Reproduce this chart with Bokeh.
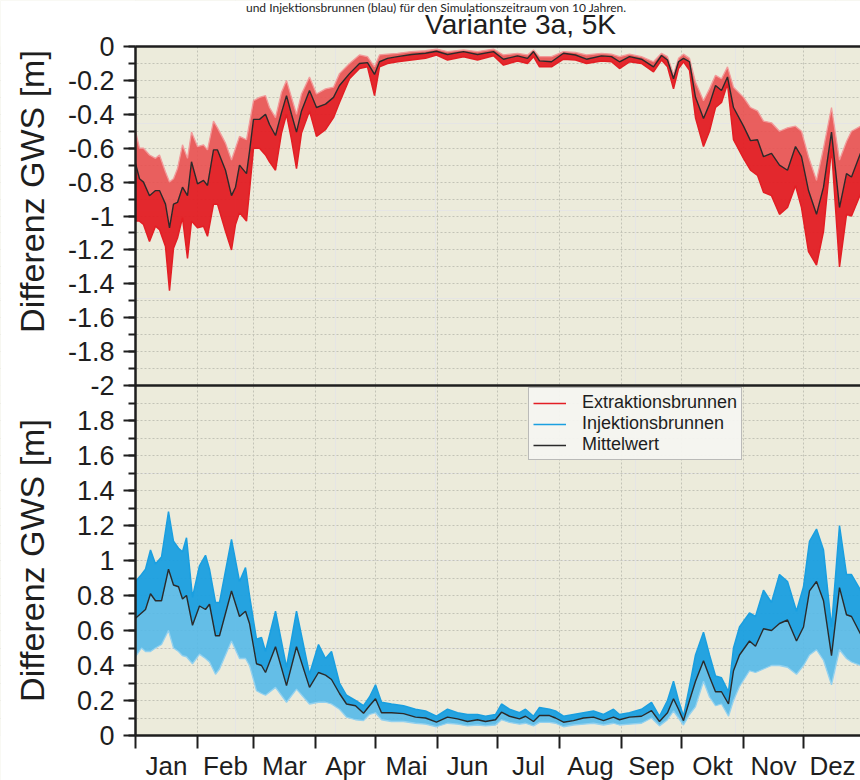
from math import pi
from bokeh.plotting import figure
from bokeh.models import (Range1d, FixedTicker, LinearAxis, Label, Legend,
                          LegendItem, Grid, BoxAnnotation)
from bokeh.embed import file_html
from bokeh.resources import INLINE

# --- month axis -------------------------------------------------------------
months = ["Jan", "Feb", "Mar", "Apr", "Mai", "Jun",
          "Jul", "Aug", "Sep", "Okt", "Nov", "Dez"]
month_start = [0, 31, 59, 90, 120, 151, 181, 212, 243, 273, 304, 334]
month_mid = [15.5, 45, 74.5, 105, 135.5, 166, 196.5, 227.5, 258, 288.5, 319, 348.5]

top_tick_labels = ["0", "-0.2", "-0.4", "-0.6", "-0.8", "-1",
                   "-1.2", "-1.4", "-1.6", "-1.8", "-2"]
bottom_tick_labels = ["0", "0.2", "0.4", "0.6", "0.8", "1",
                      "1.2", "1.4", "1.6", "1.8"]

# --- extraction wells: GW level difference [m] (mean, upper and lower envelope)
ext_day = [0, 2, 4, 7, 10, 12, 15, 17, 19, 21,
           23.5, 26, 28, 31, 34, 36, 39, 41, 45, 48,
           50, 52, 55.5, 57, 59, 62, 65, 67, 70, 73,
           75.5, 78, 80.5, 83, 87, 90.5, 95, 99, 102, 107,
           112, 116, 119.5, 122, 126, 131, 138, 145, 150.5, 156,
           164, 171, 179, 184, 191, 196, 199, 202, 208, 214,
           220, 225.5, 233, 238, 242, 247, 253, 259, 263, 266,
           269, 271.5, 274, 277, 280, 284, 287, 290, 293, 296,
           299, 304, 307.5, 311, 314, 318, 322, 326, 330, 333,
           336.5, 340.5, 344, 348, 352, 355.5, 358, 362.5]
ext_mean = [-0.69, -0.78, -0.80, -0.88, -0.85, -0.85, -0.93, -1.07, -0.93, -0.92,
            -0.83, -0.88, -0.68, -0.81, -0.79, -0.82, -0.61, -0.61, -0.73, -0.88,
            -0.83, -0.70, -0.75, -0.62, -0.43, -0.43, -0.40, -0.46, -0.525, -0.39,
            -0.29, -0.40, -0.505, -0.38, -0.26, -0.36, -0.34, -0.30, -0.23, -0.16,
            -0.10, -0.095, -0.165, -0.09, -0.07, -0.06, -0.047, -0.04, -0.028, -0.047,
            -0.03, -0.047, -0.03, -0.075, -0.055, -0.07, -0.03, -0.085, -0.09, -0.04,
            -0.05, -0.075, -0.055, -0.06, -0.09, -0.06, -0.075, -0.12, -0.053, -0.08,
            -0.19, -0.09, -0.07, -0.09, -0.30, -0.425, -0.34, -0.23, -0.26, -0.18,
            -0.36, -0.47, -0.555, -0.55, -0.65, -0.63, -0.70, -0.73, -0.59, -0.65,
            -0.85, -0.99, -0.83, -0.505, -0.95, -0.75, -0.77, -0.63]
ext_hi = [-0.50, -0.60, -0.60, -0.64, -0.66, -0.64, -0.74, -0.80, -0.78, -0.72,
          -0.58, -0.66, -0.505, -0.59, -0.58, -0.61, -0.44, -0.48, -0.57, -0.67,
          -0.60, -0.53, -0.55, -0.45, -0.32, -0.30, -0.29, -0.36, -0.42, -0.27,
          -0.20, -0.30, -0.40, -0.28, -0.18, -0.28, -0.25, -0.24, -0.16, -0.10,
          -0.05, -0.06, -0.12, -0.05, -0.045, -0.04, -0.03, -0.025, -0.015, -0.03,
          -0.02, -0.03, -0.015, -0.05, -0.04, -0.05, -0.02, -0.06, -0.06, -0.03,
          -0.035, -0.05, -0.04, -0.045, -0.06, -0.045, -0.06, -0.09, -0.04, -0.06,
          -0.165, -0.07, -0.045, -0.07, -0.21, -0.32, -0.25, -0.17, -0.19, -0.12,
          -0.24, -0.30, -0.36, -0.38, -0.44, -0.45, -0.50, -0.48, -0.47, -0.50,
          -0.65, -0.79, -0.60, -0.36, -0.67, -0.56, -0.50, -0.47]
ext_lo = [-1.03, -1.03, -1.05, -1.15, -1.06, -1.08, -1.18, -1.44, -1.19, -1.13,
          -1.01, -1.25, -1.03, -1.07, -1.06, -1.12, -0.93, -0.93, -1.09, -1.20,
          -1.05, -0.98, -1.03, -0.85, -0.60, -0.60, -0.64, -0.68, -0.73, -0.51,
          -0.40, -0.55, -0.72, -0.51, -0.38, -0.53, -0.49, -0.42, -0.33, -0.19,
          -0.13, -0.12, -0.29, -0.12, -0.10, -0.09, -0.08, -0.07, -0.05, -0.08,
          -0.06, -0.08, -0.055, -0.11, -0.085, -0.10, -0.06, -0.12, -0.12, -0.075,
          -0.08, -0.10, -0.085, -0.09, -0.13, -0.09, -0.10, -0.15, -0.08, -0.12,
          -0.25, -0.13, -0.09, -0.14, -0.42, -0.59, -0.50, -0.36, -0.33, -0.22,
          -0.55, -0.66, -0.73, -0.76, -0.86, -0.88, -0.99, -0.95, -0.82, -0.95,
          -1.21, -1.29, -1.09, -0.60, -1.30, -0.99, -1.00, -0.87]

# --- injection wells: GW level difference [m] (mean, upper and lower envelope)
inj_day = [0, 3, 5, 7.5, 10, 13, 16.5, 19, 21.5, 23.5,
           25.5, 28.5, 32, 35, 37, 40, 42, 48, 52, 55,
           57, 60.5, 63, 65, 70, 75.5, 80.5, 87, 91.5, 95,
           98, 102, 105.5, 110, 114, 117, 120, 123, 128, 134,
           140, 145, 150.5, 156, 161, 166, 171, 175, 180, 183,
           187, 192, 195, 199, 202, 207, 210, 214, 219, 224,
           229, 234, 239, 242, 247, 253, 258, 262, 266, 269,
           271.5, 274, 277, 280, 284, 287, 290, 293, 296.5, 299,
           302, 307, 310, 314, 318, 322, 326, 330.5, 334, 337,
           340.5, 344, 348, 352, 355.5, 358, 362.5]
inj_mean = [0.67, 0.70, 0.72, 0.81, 0.77, 0.77, 0.95, 0.86, 0.85, 0.78,
            0.80, 0.63, 0.74, 0.72, 0.75, 0.57, 0.57, 0.826, 0.68, 0.71,
            0.64, 0.41, 0.40, 0.36, 0.507, 0.285, 0.507, 0.275, 0.36, 0.345,
            0.32, 0.24, 0.18, 0.17, 0.127, 0.17, 0.21, 0.13, 0.13, 0.125,
            0.105, 0.10, 0.076, 0.105, 0.095, 0.08, 0.09, 0.08, 0.09, 0.133,
            0.11, 0.095, 0.11, 0.08, 0.114, 0.114, 0.10, 0.076, 0.085, 0.10,
            0.105, 0.085, 0.105, 0.09, 0.105, 0.11, 0.142, 0.08, 0.13, 0.21,
            0.15, 0.085, 0.20, 0.31, 0.427, 0.336, 0.25, 0.25, 0.18, 0.37,
            0.46, 0.54, 0.51, 0.61, 0.60, 0.64, 0.66, 0.54, 0.62, 0.826,
            0.88, 0.77, 0.456, 0.845, 0.69, 0.68, 0.58]
inj_hi = [0.88, 0.92, 0.95, 1.06, 0.98, 1.02, 1.28, 1.11, 1.07, 1.05,
          1.13, 0.79, 0.97, 1.03, 0.95, 0.76, 0.76, 1.12, 0.88, 0.96,
          0.80, 0.55, 0.56, 0.48, 0.71, 0.39, 0.71, 0.35, 0.52, 0.44,
          0.48, 0.30, 0.23, 0.20, 0.17, 0.22, 0.29, 0.19, 0.18, 0.17,
          0.15, 0.14, 0.11, 0.15, 0.13, 0.12, 0.12, 0.11, 0.12, 0.18,
          0.15, 0.13, 0.15, 0.11, 0.16, 0.15, 0.14, 0.11, 0.12, 0.13,
          0.14, 0.12, 0.15, 0.12, 0.13, 0.15, 0.19, 0.11, 0.20, 0.31,
          0.20, 0.11, 0.28, 0.46, 0.59, 0.46, 0.34, 0.33, 0.25, 0.50,
          0.62, 0.70, 0.68, 0.83, 0.76, 0.92, 0.88, 0.71, 0.85, 1.11,
          1.18, 1.06, 0.62, 1.20, 0.92, 0.92, 0.83]
inj_lo = [0.45, 0.50, 0.48, 0.48, 0.50, 0.52, 0.60, 0.50, 0.48, 0.456,
          0.45, 0.41, 0.465, 0.44, 0.42, 0.35, 0.38, 0.54, 0.44, 0.44,
          0.40, 0.256, 0.24, 0.23, 0.275, 0.19, 0.265, 0.18, 0.19, 0.19,
          0.18, 0.15, 0.105, 0.09, 0.085, 0.12, 0.13, 0.09, 0.08, 0.08,
          0.07, 0.065, 0.05, 0.07, 0.065, 0.055, 0.06, 0.055, 0.06, 0.09,
          0.075, 0.065, 0.07, 0.055, 0.075, 0.075, 0.07, 0.05, 0.06, 0.065,
          0.07, 0.06, 0.07, 0.06, 0.065, 0.07, 0.10, 0.055, 0.09, 0.14,
          0.10, 0.06, 0.12, 0.165, 0.31, 0.22, 0.17, 0.18, 0.11, 0.20,
          0.28, 0.37, 0.36, 0.38, 0.40, 0.40, 0.39, 0.35, 0.40, 0.46,
          0.49, 0.43, 0.29, 0.49, 0.44, 0.42, 0.40]

# --- styling ----------------------------------------------------------------
FONT = "Liberation Sans"
BG = "#ecebdb"
INK = "#1e1e1e"
GRID = "#c3c3b6"
RED, RED_SOFT, RED_PALE = "#e31e24", "#e95050", "#f29a9a"
BLUE, BLUE_SOFT, BLUE_PALE = "#1a9fe0", "#55b9e8", "#93d1ef"
MEAN = "#2a2a2a"

# The frame fills the whole canvas; axes are pinned with fixed_location and
# the white page margins are masked.  Pixel geometry of the panels:
W, H = 860, 780
X0_PX = 135          # x pixel of 1 January
PX_DAY = 2.0         # px per day
Y0_PX = 735          # y pixel of 0 m, lower panel
PX_BOT = 175.0       # px per metre, lower panel (0 .. 2 m)
TOP0_PX = 46         # y pixel of 0 m, upper panel
PX_TOP = 169.5       # px per metre, upper panel (-2 .. 0 m)

X_START = -X0_PX / PX_DAY
X_END = (W - X0_PX) / PX_DAY
Y_TOP = (Y0_PX - TOP0_PX) / PX_BOT       # upper edge of the upper panel (main units)


def to_main(v):
    """Position of an upper-panel value on the main y-range."""
    return (Y0_PX - (TOP0_PX - v * PX_TOP)) / PX_BOT


def px_x(px):
    return (px - X0_PX) / PX_DAY


def px_y(px):
    return (Y0_PX - px) / PX_BOT


p = figure(width=W, height=H, output_backend="svg", toolbar_location=None,
           x_range=Range1d(X_START, X_END),
           y_range=Range1d(-(H - Y0_PX) / PX_BOT, Y0_PX / PX_BOT),
           x_axis_location=None, y_axis_location=None,
           min_border_left=0, min_border_right=0, min_border_top=0,
           min_border_bottom=0, background_fill_color=BG,
           border_fill_color="white", outline_line_color=None)
p.extra_y_ranges = {"top": Range1d(-(H - TOP0_PX) / PX_TOP, TOP0_PX / PX_TOP)}

# --- dotted grid, then the white margins over it -----------------------------
top_ticks = [to_main(float(s)) for s in top_tick_labels]
bot_ticks = [float(s) for s in bottom_tick_labels]
top_minor = [to_main(-0.1 * i) for i in range(21)]
bot_minor = [0.1 * i for i in range(20)]

p.add_layout(Grid(dimension=0, ticker=FixedTicker(ticks=month_start[1:]),
                  grid_line_color=GRID, grid_line_dash="2 2", grid_line_width=1))
p.add_layout(Grid(dimension=1, ticker=FixedTicker(ticks=top_minor[1:-1] + bot_minor[1:]),
                  grid_line_color=GRID, grid_line_dash="2 2", grid_line_width=1))
for box in (dict(right=0), dict(bottom=Y_TOP), dict(top=0)):
    p.add_layout(BoxAnnotation(fill_color="white", fill_alpha=1.0, line_color=None,
                               level="underlay", **box))

# --- upper panel: extraction wells ------------------------------------------
p.varea(x=ext_day, y1=ext_hi, y2=ext_mean, fill_color=RED_SOFT, fill_alpha=0.9,
        y_range_name="top")
p.varea(x=ext_day, y1=ext_mean, y2=ext_lo, fill_color=RED, fill_alpha=0.95,
        y_range_name="top")
p.line(ext_day, ext_hi, line_color=RED_PALE, line_width=1.3, y_range_name="top")
ext_line = p.line(ext_day, ext_lo, line_color=RED, line_width=1.5, y_range_name="top")
p.line(ext_day, ext_mean, line_color=MEAN, line_width=1.4, y_range_name="top")

# --- lower panel: injection wells -------------------------------------------
p.varea(x=inj_day, y1=inj_hi, y2=inj_mean, fill_color=BLUE, fill_alpha=0.95)
p.varea(x=inj_day, y1=inj_mean, y2=inj_lo, fill_color=BLUE_SOFT, fill_alpha=0.9)
inj_line = p.line(inj_day, inj_hi, line_color=BLUE, line_width=1.5)
p.line(inj_day, inj_lo, line_color=BLUE_PALE, line_width=1.3)
mean_line = p.line(inj_day, inj_mean, line_color=MEAN, line_width=1.4)

# --- y axis carrying both panels' ticks -------------------------------------
overrides = {t: s for t, s in zip(top_ticks, top_tick_labels)}
overrides.update({t: s for t, s in zip(bot_ticks, bottom_tick_labels)})
ya = LinearAxis(fixed_location=0, bounds=(0, Y_TOP),
                ticker=FixedTicker(ticks=top_ticks + bot_ticks,
                                   minor_ticks=top_minor + bot_minor),
                major_label_overrides=overrides,
                major_label_text_font=FONT, major_label_text_font_size="27px",
                major_label_text_color=INK, major_label_standoff=9,
                axis_line_width=2.5, axis_line_color=INK,
                major_tick_line_width=2, major_tick_line_color=INK,
                minor_tick_line_width=2, minor_tick_line_color=INK,
                major_tick_out=12, major_tick_in=0, minor_tick_out=7, minor_tick_in=0)
p.add_layout(ya, "left")

# --- month axis -------------------------------------------------------------
xa = LinearAxis(fixed_location=0, bounds=(0, X_END),
                ticker=FixedTicker(ticks=month_mid, minor_ticks=month_start),
                major_label_overrides=dict(zip(month_mid, months)),
                major_label_text_font=FONT, major_label_text_font_size="26px",
                major_label_text_color=INK, major_label_standoff=2,
                axis_line_width=2.5, axis_line_color=INK,
                major_tick_out=0, major_tick_in=0,
                minor_tick_out=13, minor_tick_in=0,
                minor_tick_line_width=2, minor_tick_line_color=INK)
p.add_layout(xa, "below")

# top edge of the upper panel and the border between the panels
for loc in (Y_TOP, 2):
    p.add_layout(LinearAxis(fixed_location=loc, bounds=(0, X_END),
                            ticker=FixedTicker(ticks=[]),
                            major_label_text_font_size="0px",
                            major_tick_out=0, major_tick_in=0,
                            minor_tick_out=0, minor_tick_in=0,
                            axis_line_width=2.5, axis_line_color=INK), "above")

# --- legend ------------------------------------------------------------------
legend = Legend(items=[LegendItem(label="Extraktionsbrunnen", renderers=[ext_line]),
                       LegendItem(label="Injektionsbrunnen", renderers=[inj_line]),
                       LegendItem(label="Mittelwert", renderers=[mean_line])],
                location=(528, 320), orientation="vertical",
                label_text_font=FONT, label_text_font_size="18px",
                label_text_color=INK, label_height=18, label_standoff=16,
                glyph_width=33, glyph_height=18, spacing=0, padding=4, margin=0,
                border_line_color="#7f7f7f", border_line_width=1,
                background_fill_color="#f6f6f1", background_fill_alpha=0.95)
p.add_layout(legend)

# --- texts -------------------------------------------------------------------
for centre_px in (191, 560):
    p.add_layout(Label(x=px_x(31), y=px_y(centre_px), text="Differenz GWS [m]",
                       angle=pi / 2, text_align="center", text_baseline="alphabetic",
                       text_font=FONT, text_font_size="34px", text_color=INK))
p.add_layout(Label(x=px_x(520), y=px_y(23.5), text="Variante 3a, 5K",
                   text_align="center", text_baseline="alphabetic", text_font=FONT,
                   text_font_size="28px", text_color=INK))
p.add_layout(Label(x=px_x(436), y=px_y(6.5),
                   text="und Injektionsbrunnen (blau) für den Simulationszeitraum von 10 Jahren.",
                   text_align="center", text_baseline="alphabetic", text_font="Lato",
                   text_font_size="12px", text_color=INK))

open("out.html", "w").write(file_html(p, INLINE))
